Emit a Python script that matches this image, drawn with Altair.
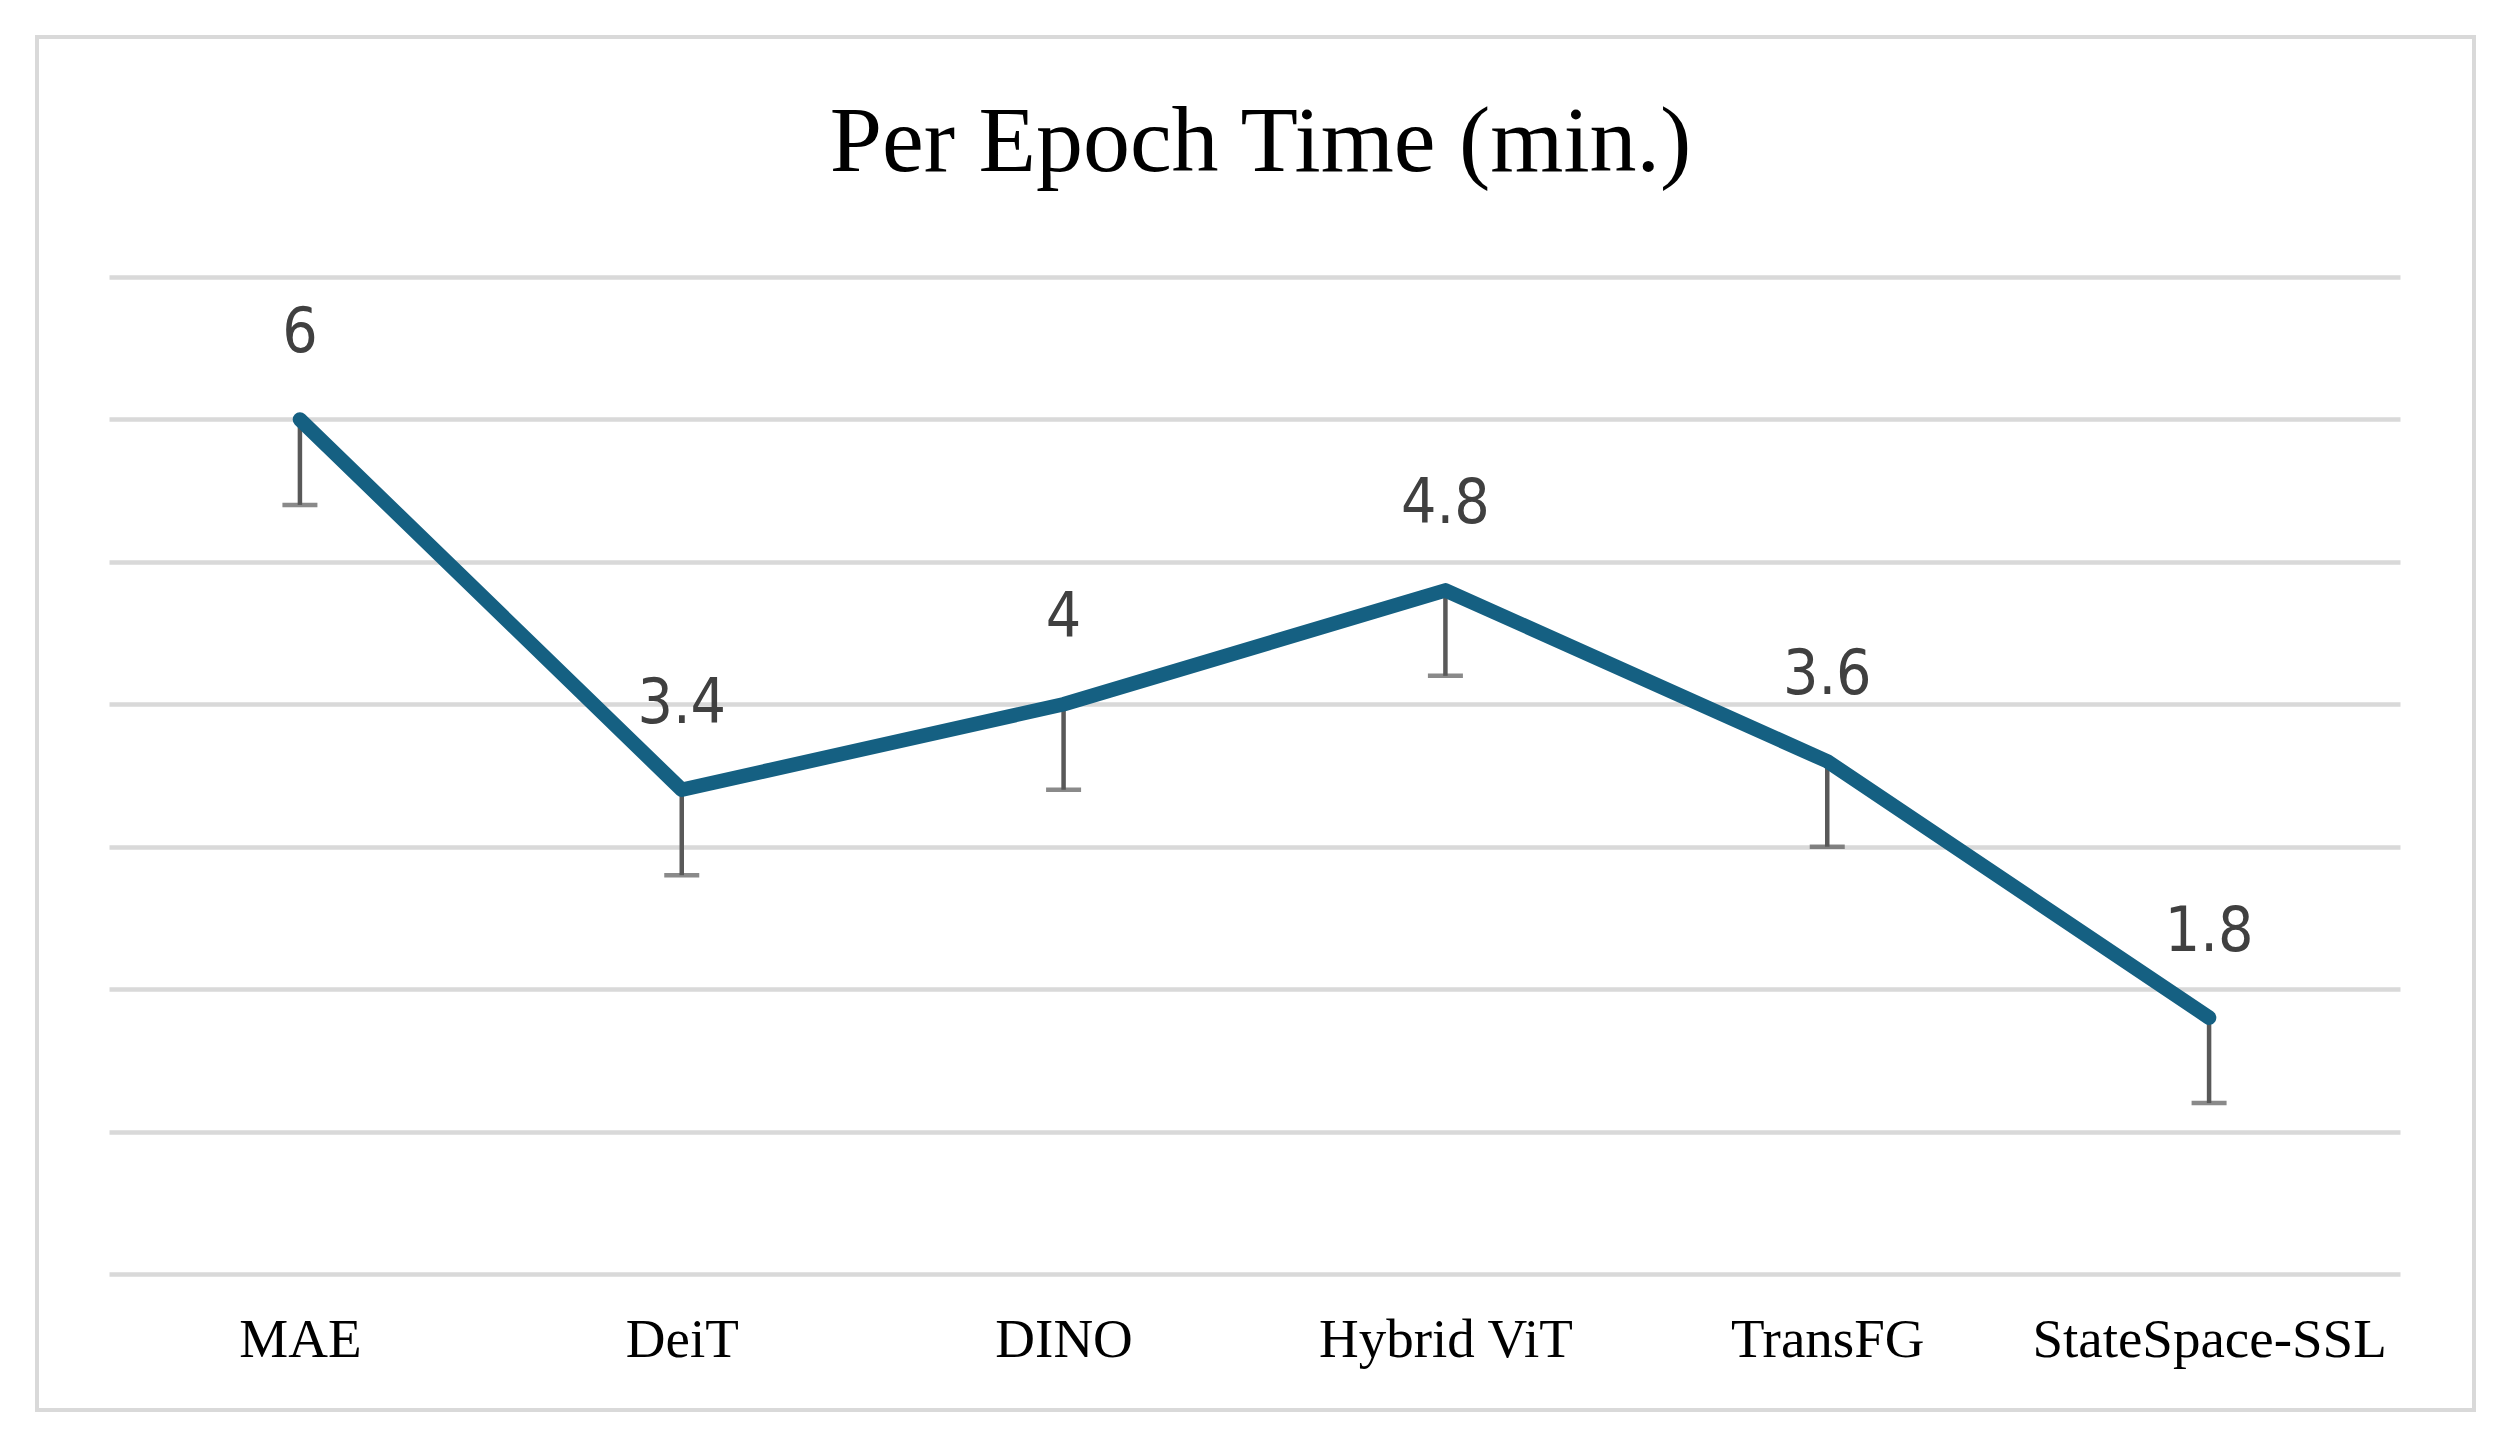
import altair as alt
import pandas as pd

models = ["MAE", "DeiT", "DINO", "Hybrid ViT", "TransFG", "StateSpace-SSL"]
times = [6.0, 3.4, 4.0, 4.8, 3.6, 1.8]
err_minus = [0.6, 0.6, 0.6, 0.6, 0.6, 0.6]
y_ticks = [0, 1, 2, 3, 4, 5, 6, 7]
title_text = "Per Epoch Time (min.)"

df = pd.DataFrame({"model": models, "time": times, "err": err_minus})
df["low"] = df["time"] - df["err"]

W, H = 2291, 997
x_enc = alt.X("model:N", sort=models,
              scale=alt.Scale(type="point", padding=0.5),
              axis=alt.Axis(title=None, labelAngle=0, domain=False, ticks=False, tickSize=0,
                            labelFont="Liberation Serif", labelFontSize=55, labelColor="#000000",
                            labelBaseline="alphabetic", labelPadding=82, labelLimit=0,
                            labelOverlap=False, grid=False))
y_scale = alt.Scale(domain=[0, 7], nice=False, zero=True)

base = alt.Chart(df)

grid = base.mark_line(opacity=0).encode(
    x=x_enc,
    y=alt.Y("time:Q", scale=y_scale,
            axis=alt.Axis(title=None, values=y_ticks, labels=False, ticks=False, domain=False,
                          grid=True, gridColor="#d9d9d9", gridWidth=4.5)),
)

errbar = base.mark_rule(color="#595959", strokeWidth=4.5).encode(
    x=alt.X("model:N", sort=models),
    y=alt.Y("time:Q", scale=y_scale),
    y2="low:Q",
)
caps = base.mark_tick(color="#595959", thickness=4.5, size=35, orient="horizontal").encode(
    x=alt.X("model:N", sort=models),
    y=alt.Y("low:Q", scale=y_scale),
)
line = base.mark_line(color="#156082", strokeWidth=14.5, strokeCap="round", strokeJoin="round").encode(
    x=alt.X("model:N", sort=models),
    y=alt.Y("time:Q", scale=y_scale),
)
labels = base.mark_text(font="Liberation Sans Narrow, DejaVu Sans Condensed, sans-serif", fontSize=62,
                        color="#404040", baseline="middle", align="center", dy=-86).encode(
    x=alt.X("model:N", sort=models),
    y=alt.Y("time:Q", scale=y_scale),
    text=alt.Text("time:Q"),
)

border = alt.Chart(alt.Data(values=[{"a": 1}])).mark_rect(
    fill=None, stroke="#d9d9d9", strokeWidth=4
).encode(x=alt.value(-72), x2=alt.value(2365), y=alt.value(-240), y2=alt.value(1133))

title = alt.Chart(alt.Data(values=[{"t": title_text}])).mark_text(
    font="Liberation Serif", fontSize=94, color="#000000", align="center", baseline="alphabetic"
).encode(x=alt.value(W / 2 + 6), y=alt.value(-106), text="t:N")

chart = alt.layer(grid, border, title, errbar, caps, line, labels).properties(
    width=W, height=H,
    autosize=alt.AutoSizeParams(type="none"),
    padding={"left": 101, "top": 269, "right": 90, "bottom": 150},
    background="#ffffff",
).configure_view(stroke=None)

chart.save("out.html", embed_options={"renderer": "svg", "actions": False})
